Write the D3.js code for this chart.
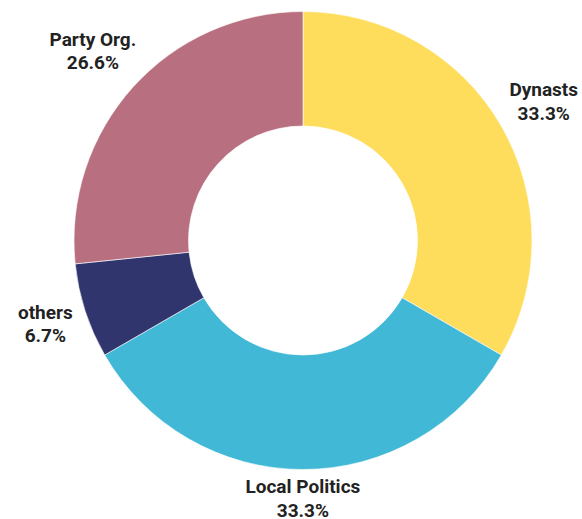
<!DOCTYPE html>
<html>
<head>
<meta charset="utf-8">
<script src="https://cdn.jsdelivr.net/npm/d3@7"></script>
<style>
  html, body { margin: 0; padding: 0; background: #fff; }
  svg { display: block; }
</style>
</head>
<body>
<svg id="chart" width="582" height="519"></svg>
<script>
// Share of members by background
const categories = ["Dynasts", "Local Politics", "others", "Party Org."];
const shares = [33.3, 33.3, 6.7, 26.6];
const sliceColors = ["#FFDD5C", "#41B8D5", "#31356E", "#B87080"];

const width = 582, height = 519;
const cx = 303, cy = 240.5;
const outerR = 229, innerR = 114.5;
const labelGap = 10;
const fontSize = 19;
const capH = fontSize * 0.711;   // Roboto cap height
const lineH = 23.5;

const svg = d3.select("#chart");
const g = svg.append("g").attr("transform", `translate(${cx},${cy})`);

const data = categories.map((c, i) => ({ name: c, value: shares[i], color: sliceColors[i] }));

const pie = d3.pie().value(d => d.value).sort(null);
const arc = d3.arc().innerRadius(innerR).outerRadius(outerR);
const arcs = pie(data);

g.selectAll("path.slice")
  .data(arcs)
  .join("path")
  .attr("class", "slice")
  .attr("d", arc)
  .attr("fill", d => d.data.color)
  .attr("stroke", "#fff")
  .attr("stroke-width", 0.6);

// Labels: two lines, placed outward along the slice's mid-angle so the
// nearest corner of the text block sits just outside the ring.
const labels = g.selectAll("g.label")
  .data(arcs)
  .join("g")
  .attr("class", "label");

labels.each(function(d) {
  const sel = d3.select(this);
  const t = sel.append("text")
    .attr("text-anchor", "middle")
    .attr("font-family", "Roboto, sans-serif")
    .attr("font-weight", 700)
    .attr("font-size", fontSize)
    .attr("fill", "#222");
  t.append("tspan").attr("x", 0).attr("y", 0).text(d.data.name);
  t.append("tspan").attr("x", 0).attr("y", lineH).text(d3.format(".1f")(d.data.value) + "%");

  const bb = t.node().getBBox();
  const hw = bb.width / 2;
  const top = -capH, bottom = lineH;
  const hh = (bottom - top) / 2;
  const bcx = bb.x + hw, bcy = (top + bottom) / 2;
  const a = (d.startAngle + d.endAngle) / 2;
  const ux = Math.sin(a), uy = -Math.cos(a);
  const nearest = dist => {
    const px = ux * dist, py = uy * dist;
    const nx = Math.max(px - hw, Math.min(0, px + hw));
    const ny = Math.max(py - hh, Math.min(0, py + hh));
    return Math.hypot(nx, ny);
  };
  let lo = outerR * 0.5, hi = outerR * 2;
  for (let k = 0; k < 40; k++) {
    const mid = (lo + hi) / 2;
    if (nearest(mid) < outerR + labelGap) lo = mid; else hi = mid;
  }
  const dist = (lo + hi) / 2;
  sel.attr("transform", `translate(${ux * dist - bcx},${uy * dist - bcy})`);
});
</script>
</body>
</html>
